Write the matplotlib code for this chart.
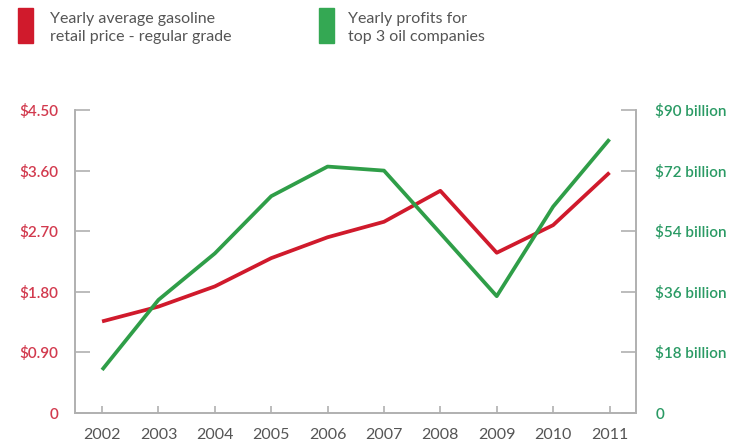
import matplotlib
matplotlib.use("Agg")
import matplotlib.pyplot as plt
from matplotlib.patches import Rectangle

years = [2002, 2003, 2004, 2005, 2006, 2007, 2008, 2009, 2010, 2011]
gas_price = [1.36, 1.58, 1.88, 2.30, 2.61, 2.84, 3.30, 2.38, 2.79, 3.57]
profits = [12.8, 33.6, 47.4, 64.4, 73.2, 72.0, 53.4, 34.7, 61.3, 81.3]

left_ticks = [0, 0.9, 1.8, 2.7, 3.6, 4.5]
left_labels = ["0", "$0.90", "$1.80", "$2.70", "$3.60", "$4.50"]
right_ticks = [0, 18, 36, 54, 72, 90]
right_labels = ["0", "$18 billion", "$36 billion", "$54 billion", "$72 billion", "$90 billion"]

legend_labels = ["Yearly average gasoline\nretail price - regular grade",
                 "Yearly profits for\ntop 3 oil companies"]

RED = "#d01a2c"
GREEN = "#2f9e48"
RED_TXT = "#d23a4e"
GREEN_TXT = "#2a9a64"
AXC = "#b0b0b0"
FONT = ["Lato", "DejaVu Sans"]

plt.rcParams['font.family'] = FONT

W, H = 742, 444
fig = plt.figure(figsize=(W / 100, H / 100), dpi=100)
fig.patch.set_facecolor("white")
ax = fig.add_axes([75 / W, (H - 413) / H, (636 - 75) / W, (413 - 110) / H])
ax2 = ax.twinx()

ax.plot(years, gas_price, color=RED, lw=2.7, solid_capstyle="butt", zorder=3)
ax2.plot(years, profits, color=GREEN, lw=2.7, solid_capstyle="butt", zorder=3)

ax.set_xlim(2001.52, 2011.47)
ax.set_ylim(0, 4.5)
ax2.set_ylim(0, 90)

ax.set_xticks(years)
ax.set_xticklabels([str(y) for y in years], color="#555555", fontsize=11.5)
ax.set_yticks(left_ticks)
ax.set_yticklabels(left_labels, color=RED_TXT, fontsize=11, fontweight="semibold")
ax2.set_yticks(right_ticks)
ax2.set_yticklabels(right_labels, color=GREEN_TXT, fontsize=11, fontweight="semibold")

for a in (ax, ax2):
    a.spines['top'].set_visible(False)
    for s in ('left', 'right', 'bottom'):
        a.spines[s].set_color(AXC)
        a.spines[s].set_linewidth(1.2)

ax.tick_params(axis='y', direction='in', length=11, width=1.2, color=AXC, pad=12)
ax2.tick_params(axis='y', direction='in', length=11, width=1.2, color=AXC, pad=14)
ax.tick_params(axis='x', direction='in', length=5, width=1.2, color=AXC, pad=11)

# legend
fig.patches.append(Rectangle((18 / W, (H - 43) / H), 15 / W, 35 / H,
                             transform=fig.transFigure, color=RED, figure=fig))
fig.patches.append(Rectangle((319 / W, (H - 43) / H), 15 / W, 35 / H,
                             transform=fig.transFigure, color="#34a853", figure=fig))
fig.text(50 / W, (H - 28) / H, legend_labels[0], fontsize=11.5, color="#555555",
         va="center", ha="left", linespacing=1.3)
fig.text(348 / W, (H - 28) / H, legend_labels[1], fontsize=11.5, color="#555555",
         va="center", ha="left", linespacing=1.3)

fig.savefig("out.png", dpi=100, facecolor="white")
